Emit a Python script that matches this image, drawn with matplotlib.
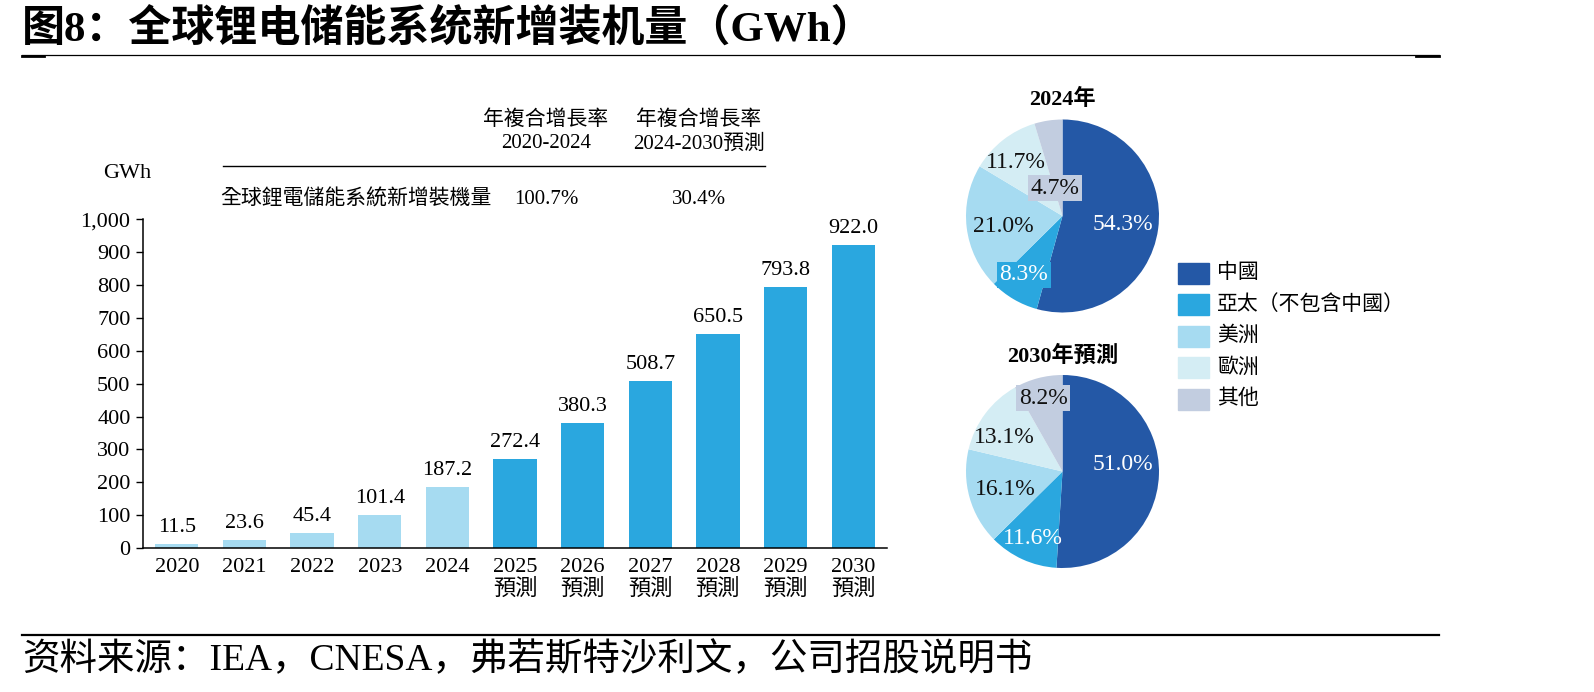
import matplotlib
matplotlib.use("Agg")
import matplotlib.pyplot as plt
from matplotlib.patches import Rectangle
from matplotlib.lines import Line2D

SERIF_SC = ["Liberation Serif", "Noto Sans CJK SC"]
SERIF_TC = ["Liberation Serif", "Noto Sans CJK TC"]
plt.rcParams["font.family"] = SERIF_TC

# data
years = ["2020", "2021", "2022", "2023", "2024", "2025", "2026", "2027", "2028", "2029", "2030"]
forecast = [False] * 5 + [True] * 6
installs = [11.5, 23.6, 45.4, 101.4, 187.2, 272.4, 380.3, 508.7, 650.5, 793.8, 922.0]

regions = ["中國", "亞太（不包含中國）", "美洲", "歐洲", "其他"]
share_2024 = [54.3, 8.3, 21.0, 11.7, 4.7]
share_2030 = [51.0, 11.6, 16.1, 13.1, 8.2]

cagr_headers = ["年複合增長率\n2020-2024", "年複合增長率\n2024-2030預測"]
cagr_row_label = "全球鋰電儲能系統新增裝機量"
cagr_values = ["100.7%", "30.4%"]

# styles
LIGHT = "#A6DBF1"
DARK = "#2AA7DF"
REGION_COLORS = ["#2458A6", "#2AA7DF", "#A6DBF1", "#D4EDF4", "#C2CDE0"]
LABEL_COLORS = ["white", "white", "#111111", "#111111", "#111111"]

W, H = 1594, 692
fig = plt.figure(figsize=(W / 100, H / 100), dpi=100)


def fx(px):
    return px / W


def fy(py):
    return 1 - py / H


# title and rules
fig.text(fx(22), fy(29), "图8：全球锂电储能系统新增装机量（GWh）", family=SERIF_SC,
         fontsize=31, fontweight="bold", ha="left", va="center")
fig.add_artist(Line2D([fx(22), fx(1439)], [fy(55), fy(55)], color="black", lw=0.9))
fig.add_artist(Line2D([fx(22), fx(44)], [fy(55.5), fy(55.5)], color="black", lw=2.0))
fig.add_artist(Line2D([fx(1416), fx(1439)], [fy(55.5), fy(55.5)], color="black", lw=2.0))
fig.add_artist(Line2D([fx(22), fx(1439)], [fy(635), fy(635)], color="black", lw=1.6))
fig.text(fx(22), fy(660), "资料来源：IEA，CNESA，弗若斯特沙利文，公司招股说明书", family=SERIF_SC,
         fontsize=27, ha="left", va="center")

# bar chart
ax = fig.add_axes([fx(143), fy(548), fx(887) - fx(143), fy(219.5) - fy(548)])
x = list(range(len(years)))
colors = [DARK if f else LIGHT for f in forecast]
bars = ax.bar(x, installs, width=0.64, color=colors)
for rect, v in zip(bars, installs):
    ax.annotate(f"{v:.1f}", (rect.get_x() + rect.get_width() / 2, v), xytext=(0, 5),
                textcoords="offset points", ha="center", va="bottom", fontsize=16)
ax.set_xlim(-0.5, 10.5)
ax.set_ylim(0, 1000)
ax.set_yticks(range(0, 1001, 100))
ax.set_yticklabels([f"{t:,}" for t in range(0, 1001, 100)], fontsize=16)
ax.set_xticks(x)
ax.set_xticklabels([y + "\n預測" if f else y for y, f in zip(years, forecast)],
                   fontsize=16, linespacing=1.1, va="top")
ax.tick_params(axis="x", length=0, pad=7)
ax.tick_params(axis="y", length=5, width=1, direction="out", pad=4)
for s in ["top", "right"]:
    ax.spines[s].set_visible(False)
for s in ["left", "bottom"]:
    ax.spines[s].set_linewidth(1.1)
fig.text(fx(127), fy(174), "GWh", fontsize=16, ha="center", va="center")

# CAGR table
col_x = [546, 699]
for cx, head, val in zip(col_x, cagr_headers, cagr_values):
    fig.text(fx(cx), fy(132), head, fontsize=15, ha="center", va="center", linespacing=1.3)
    fig.text(fx(cx), fy(199), val, fontsize=15, ha="center", va="center")
fig.add_artist(Line2D([fx(223), fx(765)], [fy(166), fy(166)], color="black", lw=1.0))
fig.text(fx(220), fy(199), cagr_row_label, fontsize=15, ha="left", va="center")

# pies
label_pos = {
    "2024年": [(0.63, -0.09), (-0.40, -0.61), (-0.61, -0.11), (-0.48, 0.55), (-0.08, 0.29)],
    "2030年預測": [(0.63, 0.07), (-0.31, -0.69), (-0.59, -0.19), (-0.60, 0.35), (-0.20, 0.76)],
}
boxed = {"2024年": [False, True, False, False, True], "2030年預測": [False, False, False, False, True]}
R = 96.5
for title, shares, cy, ty in [("2024年", share_2024, 216, 99), ("2030年預測", share_2030, 471.5, 356)]:
    pax = fig.add_axes([fx(1062.5 - R), fy(cy + R), fx(2 * R), (2 * R) / H])
    pax.pie(shares, colors=REGION_COLORS, startangle=90, counterclock=False, radius=1,
            wedgeprops=dict(linewidth=0))
    pax.set_xlim(-1, 1)
    pax.set_ylim(-1, 1)
    pax.set_aspect("equal")
    pax.axis("off")
    for i, v in enumerate(shares):
        px, py = label_pos[title][i]
        kw = {}
        if boxed[title][i]:
            kw["bbox"] = dict(boxstyle="square,pad=0.12", fc=REGION_COLORS[i], ec="none")
        pax.text(px, py, f"{v:.1f}%", ha="center", va="center", fontsize=17,
                 color=LABEL_COLORS[i], **kw)
    fig.text(fx(1062.5), fy(ty), title, fontsize=16, fontweight="bold", ha="center", va="center")

# legend
for i, (name, c) in enumerate(zip(regions, REGION_COLORS)):
    yc = 273 + i * 31.6
    fig.add_artist(Rectangle((fx(1178), fy(yc + 10.5)), fx(31), 21 / H, color=c,
                             transform=fig.transFigure))
    fig.text(fx(1217), fy(yc), name, fontsize=15, ha="left", va="center")

fig.savefig("out.png", dpi=100)
